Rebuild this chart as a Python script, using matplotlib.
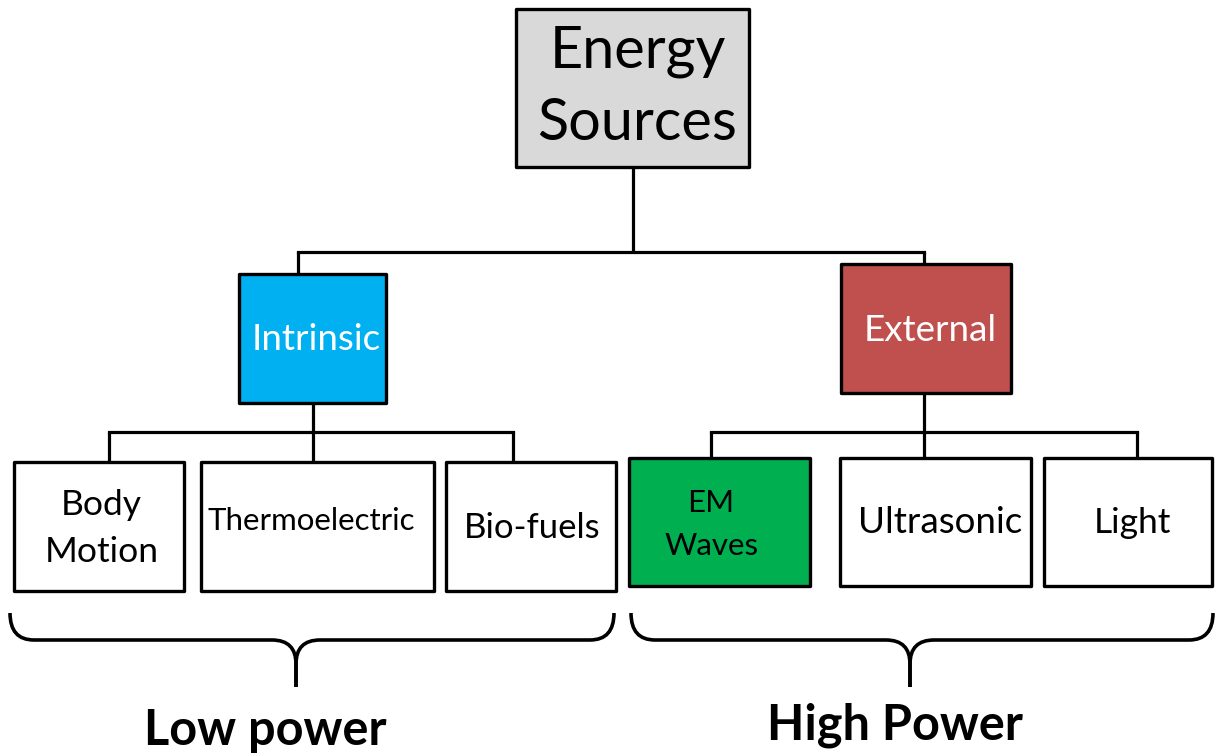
import matplotlib
matplotlib.use("Agg")
import matplotlib.pyplot as plt
from matplotlib.patches import Rectangle, PathPatch
from matplotlib.path import Path

plt.rcParams['font.family'] = ['Lato', 'DejaVu Sans']

W, H = 1215, 755

# ---- content ----
node_labels = ["Energy\nSources", "Intrinsic", "External",
               "Body\nMotion", "Thermoelectric", "Bio-fuels",
               "EM\nWaves", "Ultrasonic", "Light"]
node_colors = ["#d9d9d9", "#00b0f0", "#c0504d",
               "#ffffff", "#ffffff", "#ffffff",
               "#00b050", "#ffffff", "#ffffff"]
text_colors = ["black", "white", "white",
               "black", "black", "black",
               "black", "black", "black"]
group_labels = ["Low power", "High Power"]

# ---- layout (pixel space) ----
boxes = [(516, 9, 749, 167), (239, 274, 386, 403), (841, 264, 1011, 393),
         (14, 462, 184, 591), (201, 462, 434, 591), (446, 462, 616, 591),
         (629, 458, 810, 586), (840, 458, 1031, 586), (1044, 458, 1212, 586)]
font_sizes = [41.5, 26.5, 26.5, 25.5, 22.5, 25, 22.5, 26.5, 25.5]
# per-line (x_center, baseline)
text_pos = [[(638, 67), (637, 140)], [(316, 350)], [(930, 341)],
            [(101, 515), (102, 562)], [(311, 530)], [(532, 538)],
            [(711, 512), (712, 555)], [(940, 533)], [(1132, 533)]]

# connectors: (parent_idx, bus_y, parent_x, [child xs], [child tops])
connectors = [(0, 252, 633, [298, 924], [274, 264]),
              (1, 432, 313, [109, 313, 513], [462, 462, 462]),
              (2, 432, 924, [711, 924, 1137], [458, 458, 458])]

braces = [(10, 614, 296), (631, 1213, 910)]
brace_top, brace_flat, brace_tip, brace_r = 613, 640, 687, 24
group_pos = [(265, 745), (895, 740)]
group_sizes = [35, 35]

fig = plt.figure(figsize=(W / 100, H / 100), dpi=100)
ax = fig.add_axes([0, 0, 1, 1])
ax.set_xlim(0, W)
ax.set_ylim(H, 0)
ax.axis('off')

LW_BOX = 2.4
LW_LINE = 2.3

# connectors
for p, bus_y, px, cxs, ctops in connectors:
    pbottom = boxes[p][3]
    ax.plot([px, px], [pbottom, bus_y], color='black', lw=LW_LINE, solid_capstyle='butt', zorder=1)
    ax.plot([min(cxs), max(cxs)], [bus_y, bus_y], color='black', lw=LW_LINE, solid_capstyle='projecting', zorder=1)
    for cx, ct in zip(cxs, ctops):
        ax.plot([cx, cx], [bus_y, ct], color='black', lw=LW_LINE, solid_capstyle='butt', zorder=1)

# boxes
for (x0, y0, x1, y1), fc in zip(boxes, node_colors):
    ax.add_patch(Rectangle((x0, y0), x1 - x0, y1 - y0, facecolor=fc,
                           edgecolor='black', lw=LW_BOX, joinstyle='round', zorder=2))

# labels
for lab, poss, fs, tc in zip(node_labels, text_pos, font_sizes, text_colors):
    for line, (x, y) in zip(lab.split("\n"), poss):
        ax.text(x, y, line, ha='center', va='baseline', fontsize=fs, color=tc, zorder=3)

# braces
for x0, x1, xm in braces:
    r = brace_r
    for xe, sgn in ((x0, 1), (x1, -1)):
        verts = [(xe, brace_top), (xe, brace_flat), (xe + sgn * r, brace_flat),
                 (xm - sgn * r, brace_flat), (xm, brace_flat), (xm, brace_flat + r),
                 (xm, brace_tip)]
        codes = [Path.MOVETO, Path.CURVE3, Path.CURVE3, Path.LINETO,
                 Path.CURVE3, Path.CURVE3, Path.LINETO]
        ax.add_patch(PathPatch(Path(verts, codes), facecolor='none', edgecolor='black',
                               lw=2.6, capstyle='butt', zorder=2))

for lab, (x, y), fs in zip(group_labels, group_pos, group_sizes):
    ax.text(x, y, lab, ha='center', va='baseline', fontsize=fs, fontweight='bold', color='black')

fig.savefig("out.png", dpi=100)
